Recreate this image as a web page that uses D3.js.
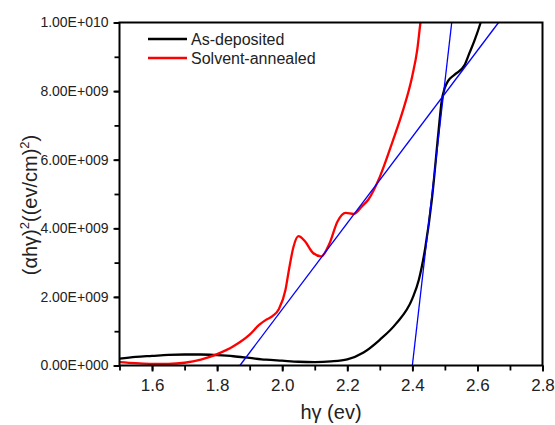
<!DOCTYPE html>
<html><head><meta charset="utf-8">
<script src="https://cdn.jsdelivr.net/npm/d3@7"></script>
<style>body{margin:0;background:#fff}svg{display:block}text{font-family:"Liberation Sans",Arial,sans-serif;fill:#222}</style>
</head><body><svg id="c" width="555" height="425"></svg>
<script>
// data (y in units of 1e9)
const asDepX = [1.5,1.55,1.6,1.65,1.7,1.75,1.8,1.85,1.9,1.95,2.0,2.05,2.1,2.15,2.2,2.25,2.3,2.35,2.4,2.42,2.44,2.46,2.48,2.49,2.50,2.51,2.53,2.56,2.575,2.59,2.61,2.625];
const asDepY = [0.2,0.25,0.28,0.31,0.32,0.32,0.3,0.27,0.22,0.17,0.14,0.11,0.1,0.12,0.18,0.38,0.75,1.22,1.95,2.5,3.45,4.84,6.78,7.7,8.1,8.3,8.48,8.75,9.1,9.45,10.0,10.5];
const solX = [1.5,1.55,1.6,1.65,1.7,1.75,1.8,1.85,1.9,1.93,1.95,1.97,1.99,2.01,2.02,2.035,2.05,2.07,2.095,2.12,2.145,2.17,2.195,2.22,2.245,2.265,2.3,2.34,2.37,2.40,2.415,2.425,2.435];
const solY = [0.1,0.07,0.05,0.05,0.08,0.17,0.33,0.56,0.9,1.19,1.33,1.44,1.65,2.2,2.75,3.47,3.77,3.62,3.28,3.18,3.55,4.2,4.45,4.42,4.64,4.84,5.5,6.55,7.4,8.45,9.2,10.0,10.6];
const fit1X = [1.870, 2.665], fit1Y = [0, 10];
const fit2X = [2.400, 2.521], fit2Y = [0, 10];
const xTicks = [1.6,1.8,2.0,2.2,2.4,2.6,2.8];
const yTicks = [0,2,4,6,8,10];
const yTickLabels = ["0.00E+000","2.00E+009","4.00E+009","6.00E+009","8.00E+009","1.00E+010"];
const seriesNames = ["As-deposited","Solvent-annealed"];
const seriesColors = ["#000000","#ff0000"];

const L=119.5,R=542.5,T=22.5,B=365.5;
const svg=d3.select("#c");
const x=d3.scaleLinear().domain([1.5,2.8]).range([L,R]);
const y=d3.scaleLinear().domain([0,10]).range([B,T]);

svg.append("clipPath").attr("id","clip").append("rect").attr("x",L).attr("y",T).attr("width",R-L).attr("height",B-T);
const g=svg.append("g").attr("clip-path","url(#clip)");
const line=d3.line().x(d=>x(d[0])).y(d=>y(d[1])).curve(d3.curveMonotoneX);
const zip=(a,b)=>a.map((v,i)=>[v,b[i]]);
g.append("path").attr("d",line(zip(asDepX,asDepY))).attr("fill","none").attr("stroke",seriesColors[0]).attr("stroke-width",2.3);
g.append("path").attr("d",line(zip(solX,solY))).attr("fill","none").attr("stroke",seriesColors[1]).attr("stroke-width",2.3);
const lin=d3.line().x(d=>x(d[0])).y(d=>y(d[1]));
g.append("path").attr("d",lin(zip(fit1X,fit1Y))).attr("fill","none").attr("stroke","#0000ff").attr("stroke-width",1.3);
g.append("path").attr("d",lin(zip(fit2X,fit2Y))).attr("fill","none").attr("stroke","#0000ff").attr("stroke-width",1.3);

// frame
svg.append("rect").attr("x",L).attr("y",T).attr("width",R-L).attr("height",B-T).attr("fill","none").attr("stroke","#000").attr("stroke-width",2);

// x axis
const xa=svg.append("g").attr("transform",`translate(0,${B})`)
 .call(d3.axisBottom(x).tickValues(d3.range(15,29).map(v=>v/10)).tickSize(5).tickFormat(""));
xa.select(".domain").remove();
xa.selectAll("line").attr("stroke","#000").attr("stroke-width",1.8);
const xb=svg.append("g").attr("transform",`translate(0,${B})`)
 .call(d3.axisBottom(x).tickValues(xTicks).tickSize(6).tickPadding(7).tickFormat(d3.format(".1f")));
xb.select(".domain").remove();
xb.selectAll("line").attr("stroke","#000").attr("stroke-width",1.8);
xb.selectAll("text").attr("font-size",17).attr("fill","#222").attr("font-family","Liberation Sans, Arial");

// y axis
const ya=svg.append("g").attr("transform",`translate(${L},0)`)
 .call(d3.axisLeft(y).tickValues(d3.range(0,11)).tickSize(5).tickFormat(""));
ya.select(".domain").remove();
ya.selectAll("line").attr("stroke","#000").attr("stroke-width",1.8);
const yb=svg.append("g").attr("transform",`translate(${L},0)`)
 .call(d3.axisLeft(y).tickValues(yTicks).tickSize(6).tickPadding(5).tickFormat((d,i)=>yTickLabels[i]));
yb.select(".domain").remove();
yb.selectAll("line").attr("stroke","#000").attr("stroke-width",1.8);
yb.selectAll("text").attr("font-size",14).attr("fill","#222").attr("font-family","Liberation Sans, Arial");

// axis titles
svg.append("text").attr("x",331).attr("y",419).attr("text-anchor","middle").attr("font-size",20).text("h\u03b3 (ev)");
const yt=svg.append("text").attr("transform","translate(37,205) rotate(-90)").attr("text-anchor","middle").attr("font-size",20);
yt.append("tspan").text("(\u03b1h\u03b3)");
yt.append("tspan").attr("dy",-8).attr("font-size",13).text("2");
yt.append("tspan").attr("dy",8).text("((ev/cm)");
yt.append("tspan").attr("dy",-8).attr("font-size",13).text("2");
yt.append("tspan").attr("dy",8).text(")");

// legend
seriesNames.forEach((n,i)=>{
  const ly=39+i*19;
  svg.append("line").attr("x1",148).attr("x2",187).attr("y1",ly).attr("y2",ly).attr("stroke",seriesColors[i]).attr("stroke-width",2.3);
  svg.append("text").attr("x",191).attr("y",ly+5.5).attr("font-size",16).text(n);
});
</script></body></html>
